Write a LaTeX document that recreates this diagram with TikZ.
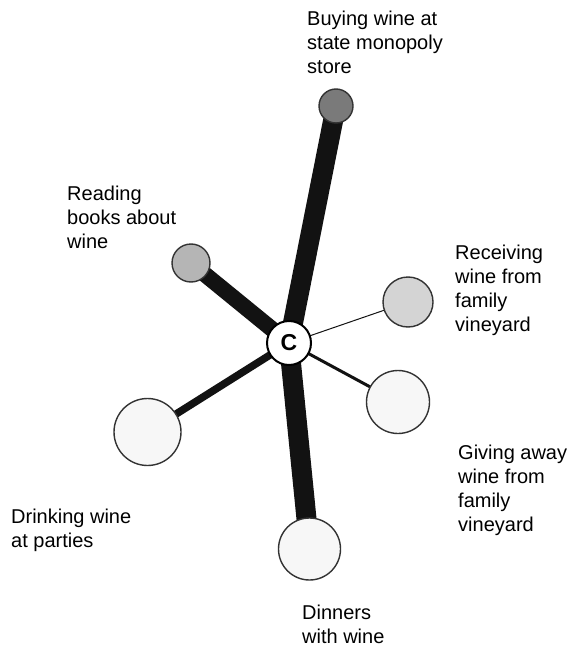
\documentclass[tikz,border=0pt]{standalone}
\usepackage{fontspec}
\setmainfont{Liberation Sans}
\usetikzlibrary{backgrounds}
\begin{document}
\begin{tikzpicture}[x=1pt,y=-1pt,
  actor/.style={circle,draw=black!80,line width=1.4pt,inner sep=0pt},
  hub/.style={circle,draw=black,line width=2pt,fill=white,inner sep=0pt,minimum size=44pt,
    font=\fontsize{23}{23}\selectfont\bfseries},
  tie/.style={draw=black!93},
  caption/.style={anchor=north west,inner sep=0pt,align=left,
    font=\fontsize{20}{24}\selectfont}]
\useasboundingbox (0,0) rectangle (569,650);
% ego and alters
\node[hub] (ego) at (289,343) {C};
\node[actor,fill=black!52,minimum size=34pt] (buy) at (336,106) {};
\node[actor,fill=black!29,minimum size=38pt] (read) at (191,263) {};
\node[actor,fill=black!17,minimum size=50pt] (recv) at (408,302) {};
\node[actor,fill=black!3,minimum size=63pt] (give) at (398,402) {};
\node[actor,fill=black!3,minimum size=67pt] (drink) at (147.5,432) {};
\node[actor,fill=black!3,minimum size=62pt] (dine) at (309.5,549) {};
% ties, width by strength, kept behind the circles
\begin{scope}[on background layer]
\draw[tie,line width=20pt] (ego.center) -- (buy.center);
\draw[tie,line width=16pt] (ego.center) -- (read.center);
\draw[tie,line width=1pt] (ego.center) -- (recv.center);
\draw[tie,line width=3pt] (ego.center) -- (give.center);
\draw[tie,line width=7.5pt] (ego.center) -- (drink.center);
\draw[tie,line width=20pt] (ego.center) -- (dine.center);
\end{scope}
% labels
\node[caption] (tbuy) at (307,10.5) {Buying wine at\\state monopoly\\store};
\node[caption] (tread) at (67,185.5) {Reading\\books about\\wine};
\node[caption] (trecv) at (455,244.5) {Receiving\\wine from\\family\\vineyard};
\node[caption] (tgive) at (458,444.5) {Giving away\\wine from\\family\\vineyard};
\node[caption] (tdrink) at (11,508.5) {Drinking wine\\at parties};
\node[caption] (tdine) at (302,605) {Dinners\\with wine};
\end{tikzpicture}
\end{document}
